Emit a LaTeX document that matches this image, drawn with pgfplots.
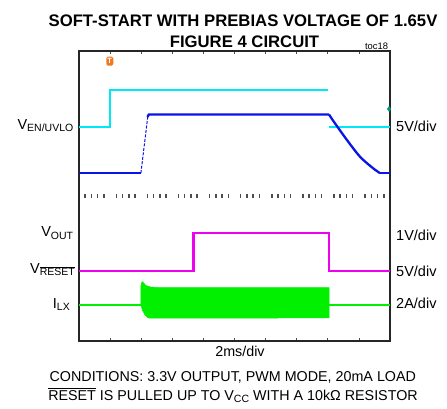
\documentclass[border=0pt]{standalone}
\usepackage{pgfplots}
\pgfplotsset{compat=1.18}
\usepackage{fontspec}
\setmainfont{Liberation Sans}
\definecolor{trcyan}{RGB}{0,232,245}
\definecolor{trblue}{RGB}{10,20,230}
\definecolor{trmag}{RGB}{240,0,240}
\definecolor{trgreen}{RGB}{0,240,0}
\definecolor{trteal}{RGB}{0,150,130}
\definecolor{trorange}{RGB}{240,120,30}
\newcommand{\sub}[1]{\raisebox{-2.5pt}{\fontsize{10.5}{12}\selectfont #1}}
\begin{document}
\begin{tikzpicture}
\useasboundingbox (0,0) rectangle (447pt,408pt);
\begin{axis}[
  at={(79pt,67pt)}, anchor=south west,
  width=311pt, height=290pt, scale only axis,
  xmin=0, xmax=10, ymin=0, ymax=8,
  xtick={1,2,3,4,5,6,7,8,9}, xticklabels={},
  ytick=\empty,
  tick align=inside, major tick length=3pt,
  xtick pos=both,
  tick style={black!70, line width=0.8pt},
  axis line style={black!85, line width=1.2pt},
  clip=true,
]
% graticule minor ticks along centre line
\addplot[only marks, mark=|, mark size=2.4pt, mark options={black!70, line width=1.5pt}] coordinates {
(0.2,4)(0.4,4)(0.6,4)(0.8,4)
(1.2,4)(1.4,4)(1.6,4)(1.8,4)
(2.2,4)(2.4,4)(2.6,4)(2.8,4)
(3.2,4)(3.4,4)(3.6,4)(3.8,4)
(4.2,4)(4.4,4)(4.6,4)(4.8,4)
(5.2,4)(5.4,4)(5.6,4)(5.8,4)
(6.2,4)(6.4,4)(6.6,4)(6.8,4)
(7.2,4)(7.4,4)(7.6,4)(7.8,4)
(8.2,4)(8.4,4)(8.6,4)(8.8,4)
(9.2,4)(9.4,4)(9.6,4)(9.8,4)
};
% EN/UVLO (cyan)
\addplot[trcyan, line width=2.2pt] coordinates {(0,5.91) (0.99,5.91) (0.99,6.92) (8.01,6.92)};
\addplot[trcyan, line width=2.2pt] coordinates {(8.04,5.91) (10,5.91)};
% blue trace
\addplot[trblue, line width=2.3pt] coordinates {(0,4.63) (1.99,4.63)};
\addplot[trblue, line width=1pt, dash pattern=on 3pt off 1.5pt] coordinates {(1.99,4.63) (2.22,6.25)};
\addplot[trblue, line width=2.3pt] coordinates {(2.20,6.18) (2.25,6.25) (8.04,6.25)};
\addplot[trblue, line width=2.3pt, smooth, tension=0.5] coordinates {(8.04,6.25) (8.17,6.08) (8.62,5.54) (9.04,5.08) (9.45,4.77) (9.68,4.63)};
\addplot[trblue, line width=2.3pt] coordinates {(9.68,4.63) (10,4.63)};
% teal marker at right edge
\addplot[only marks, mark=diamond*, mark size=2.5pt, mark options={trteal}] coordinates {(9.97,6.40)};
% VOUT / RESET (magenta)
\addplot[trmag, line width=2.2pt] coordinates {(0,1.94) (3.68,1.94) (3.68,2.97) (8.04,2.97) (8.04,1.94) (10,1.94)};
% ILX (green)
\addplot[trgreen, line width=2.2pt] coordinates {(0,0.99) (2.0,0.99)};
\addplot[trgreen, line width=2.2pt] coordinates {(8.03,0.99) (10,0.99)};
\addplot[trgreen, fill=trgreen, line width=0.5pt] coordinates {
(1.99,1.00) (1.99,1.52) (2.03,1.64) (2.08,1.60) (2.15,1.53) (2.30,1.49) (2.6,1.47)
(5,1.47) (8.04,1.47) (8.04,0.64) (5,0.63) (2.3,0.63) (2.22,0.64) (2.12,0.72) (2.04,0.85) (1.99,1.00)} -- cycle;
% trigger marker
\node[fill=trorange, rounded corners=1.5pt, inner sep=0.8pt, text=white,
      font=\bfseries\fontsize{7.5}{8}\selectfont, minimum width=7pt, minimum height=9pt]
      at (axis cs:0.99,7.72) {T};
\end{axis}
% titles
\node[anchor=base, inner sep=0, font=\bfseries\fontsize{16.7}{19}\selectfont] at (243pt,381.3pt) {SOFT-START WITH PREBIAS VOLTAGE OF 1.65V};
\node[anchor=base, inner sep=0, font=\bfseries\fontsize{16.7}{19}\selectfont] at (244.5pt,360.7pt) {FIGURE 4 CIRCUIT};
\node[anchor=base, inner sep=0, font=\fontsize{9.4}{11}\selectfont] at (376.5pt,358.7pt) {toc18};
% left labels
\node[anchor=base east, inner sep=0, font=\fontsize{14.5}{16}\selectfont] at (73.5pt,279pt) {V\sub{EN/UVLO}};
\node[anchor=base east, inner sep=0, font=\fontsize{14.5}{16}\selectfont] at (73.3pt,171.3pt) {V\sub{OUT}};
\node[anchor=base east, inner sep=0, font=\fontsize{14.5}{16}\selectfont] at (75pt,134.7pt) {V\sub{$\overline{\hbox{RESET}}$}};
\node[anchor=base east, inner sep=0, font=\fontsize{14.5}{16}\selectfont] at (70pt,99.7pt) {I\sub{LX}};
% right labels
\node[anchor=base west, inner sep=0, font=\fontsize{14.5}{16}\selectfont] at (396pt,276.3pt) {5V/div};
\node[anchor=base west, inner sep=0, font=\fontsize{14.5}{16}\selectfont] at (396pt,167.5pt) {1V/div};
\node[anchor=base west, inner sep=0, font=\fontsize{14.5}{16}\selectfont] at (396pt,132pt) {5V/div};
\node[anchor=base west, inner sep=0, font=\fontsize{14.5}{16}\selectfont] at (396pt,100pt) {2A/div};
% bottom texts
\node[anchor=base, inner sep=0, font=\fontsize{14.3}{16}\selectfont] at (240pt,51.3pt) {2ms/div};
\node[anchor=base, inner sep=0, font=\fontsize{14.3}{16}\selectfont] at (232.8pt,26.3pt) {CONDITIONS: 3.3V OUTPUT, PWM MODE, 20mA LOAD};
\node[anchor=base, inner sep=0, font=\fontsize{14.3}{16}\selectfont] at (233pt,8pt) {$\overline{\hbox{RESET}}$ IS PULLED UP TO V\sub{CC} WITH A 10kΩ RESISTOR};
\end{tikzpicture}
\end{document}
